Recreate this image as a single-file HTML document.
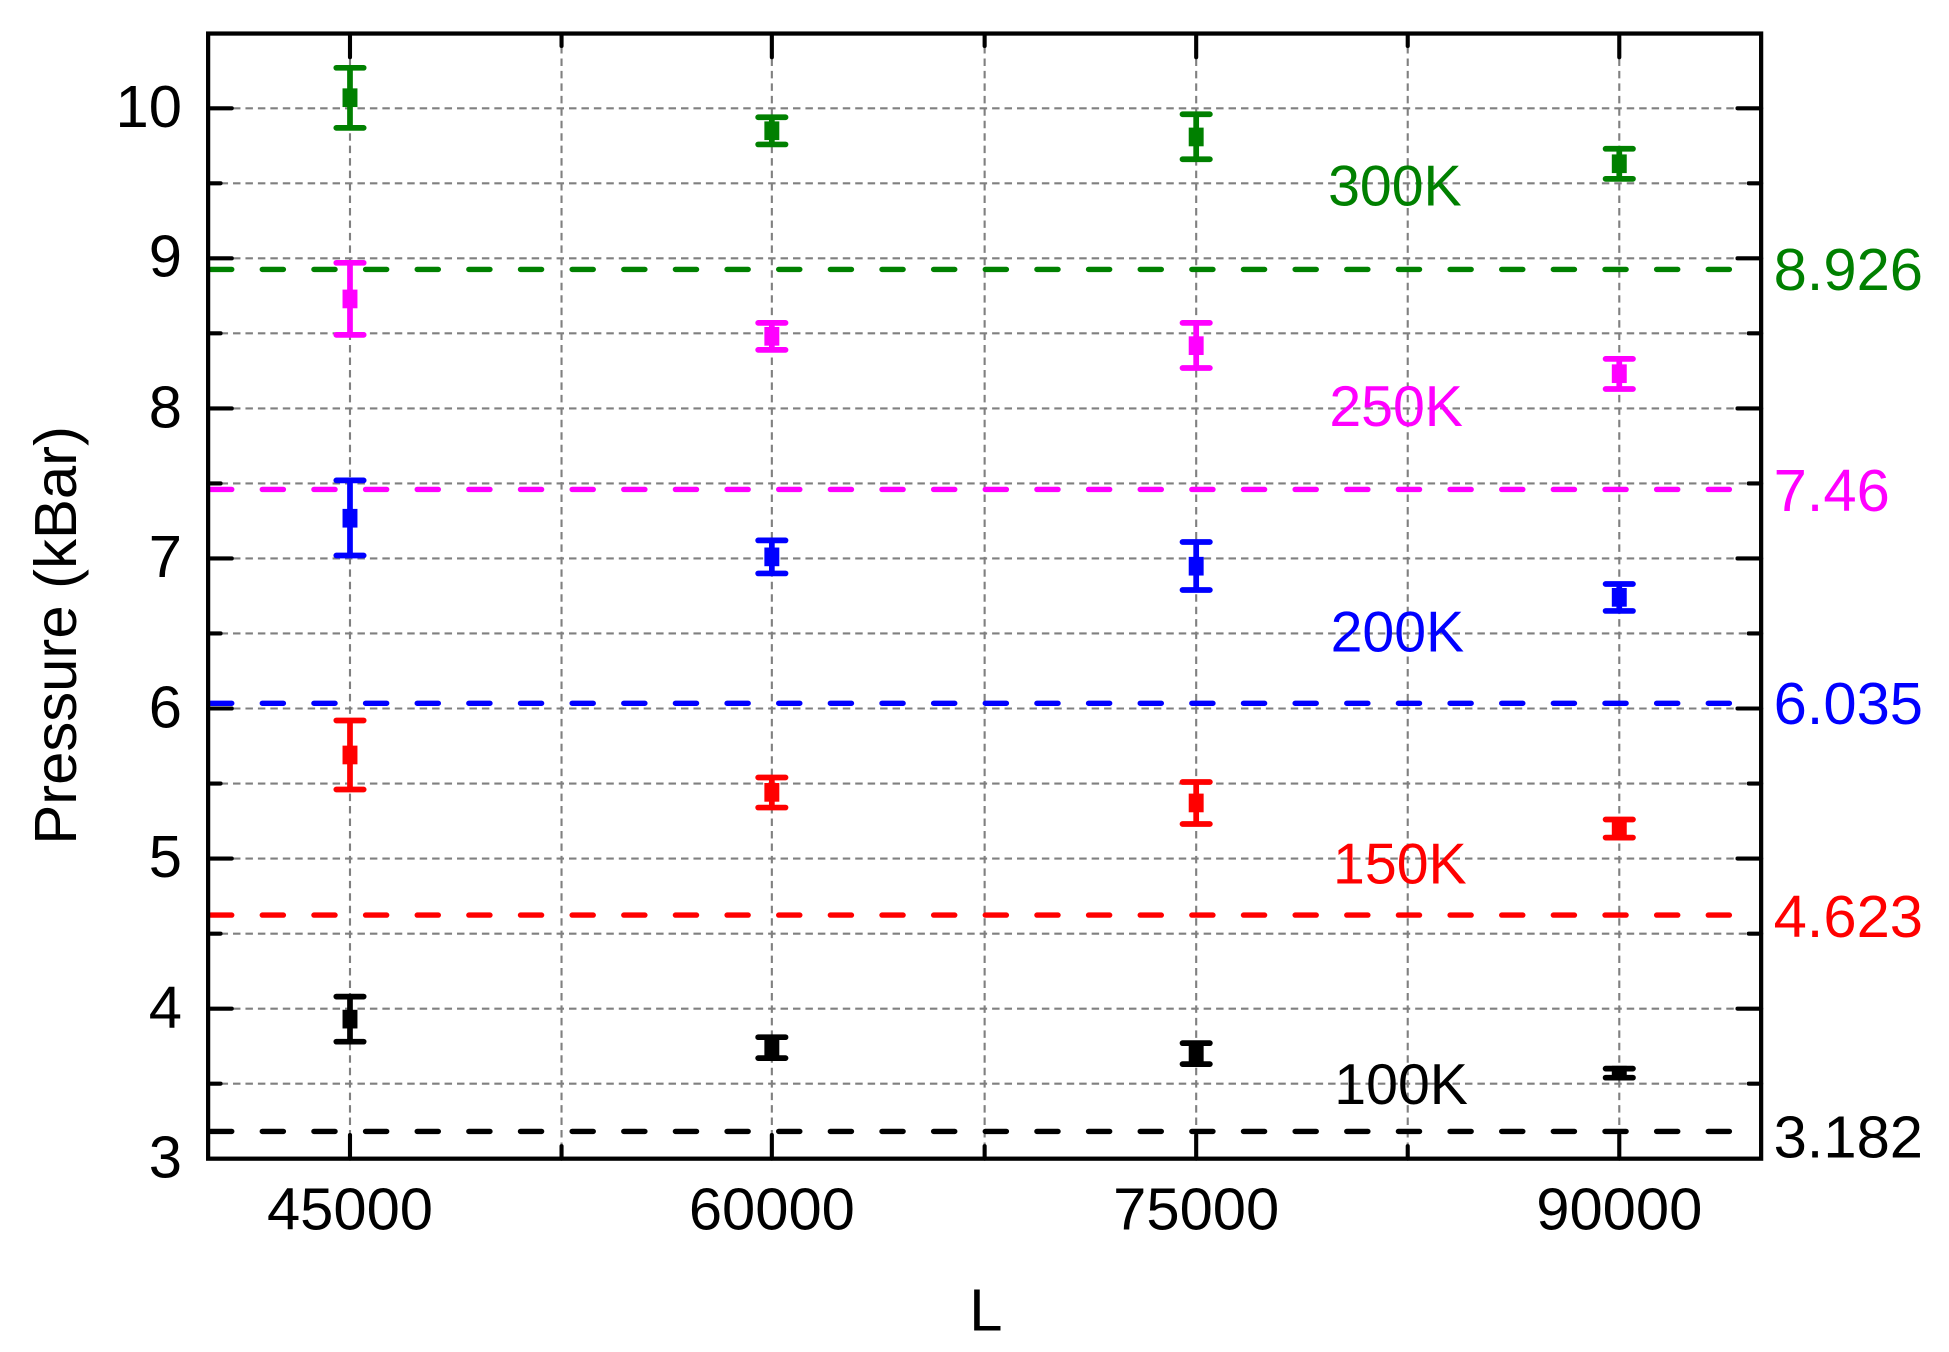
<!DOCTYPE html>
<html><head><meta charset="utf-8"><style>
html,body{margin:0;padding:0;background:#fff;}
svg{display:block;}
text{font-family:"Liberation Sans",Arial,sans-serif;}
</style></head><body>
<svg width="1949" height="1352" viewBox="0 0 1949 1352" xmlns="http://www.w3.org/2000/svg">
<rect width="1949" height="1352" fill="#fff"/>
<g transform="matrix(1.2444 0 0 1.246 -0.93 -0.1)">
<!-- grid -->
<g stroke="#808080" stroke-width="1.7" stroke-dasharray="6,4" fill="none">
<path d="M168 87H1416M168 147.2H1416M168 207.4H1416M168 267.6H1416M168 327.9H1416M168 388.1H1416M168 448.3H1416M168 508.5H1416M168 568.7H1416M168 628.9H1416M168 689.1H1416M168 749.4H1416M168 809.6H1416M168 869.8H1416"/>
<path d="M282 27V930M452 27V930M621 27V930M792 27V930M962 27V930M1132 27V930M1302 27V930"/>
</g>
<!-- reference dashed lines -->
<g stroke-width="4.3" stroke-dasharray="17,24.5" fill="none" stroke-linecap="round">
<path d="M170 216.3H1414" stroke="#008000"/>
<path d="M170 392.9H1414" stroke="#ff00ff"/>
<path d="M170 564.5H1414" stroke="#0000ff"/>
<path d="M170 734.5H1414" stroke="#ff0000"/>
<path d="M170 908.1H1414" stroke="#000"/>
</g>
<!-- ticks -->
<g stroke="#000" stroke-width="3.3" fill="none" stroke-linecap="round">
<path d="M168 87h19M168 207.4h19M168 327.9h19M168 448.3h19M168 568.7h19M168 689.1h19M168 809.6h19"/>
<path d="M168 147.2h10M168 267.6h10M168 388.1h10M168 508.5h10M168 628.9h10M168 749.4h10M168 869.8h10"/>
<path d="M1416 87h-19M1416 207.4h-19M1416 327.9h-19M1416 448.3h-19M1416 568.7h-19M1416 689.1h-19M1416 809.6h-19"/>
<path d="M1416 147.2h-10M1416 267.6h-10M1416 388.1h-10M1416 508.5h-10M1416 628.9h-10M1416 749.4h-10M1416 869.8h-10"/>
<path d="M282 930v-19M621 930v-19M962 930v-19M1302 930v-19M452 930v-10M792 930v-10M1132 930v-10"/>
<path d="M282 27v19M621 27v19M962 27v19M1302 27v19M452 27v10M792 27v10M1132 27v10"/>
</g>
<rect x="168" y="27" width="1248" height="903" fill="none" stroke="#000" stroke-width="3.4"/>
<!-- error bars -->
<g stroke-width="4.6" stroke-linecap="round">
<g stroke="#008000" fill="#008000">
<path d="M282 54.5V102.7M271 54.5h22M271 102.7h22"/><rect x="276" y="71" width="12" height="15" stroke="none"/>
<path d="M621 94.2V116M610 94.2h22M610 116h22"/><rect x="615" y="97.5" width="12" height="15" stroke="none"/>
<path d="M962 91.8V127.9M951 91.8h22M951 127.9h22"/><rect x="956" y="102.5" width="12" height="15" stroke="none"/>
<path d="M1302 119.5V143.6M1291 119.5h22M1291 143.6h22"/><rect x="1296" y="124" width="12" height="15" stroke="none"/>
</g>
<g stroke="#ff00ff" fill="#ff00ff">
<path d="M282 211V268.8M271 211h22M271 268.8h22"/><rect x="276" y="232.5" width="12" height="15" stroke="none"/>
<path d="M621 259.2V280.9M610 259.2h22M610 280.9h22"/><rect x="615" y="262.5" width="12" height="15" stroke="none"/>
<path d="M962 259.2V295.4M951 259.2h22M951 295.4h22"/><rect x="956" y="270" width="12" height="15" stroke="none"/>
<path d="M1302 288.1V312.3M1291 288.1h22M1291 312.3h22"/><rect x="1296" y="292.5" width="12" height="15" stroke="none"/>
</g>
<g stroke="#0000ff" fill="#0000ff">
<path d="M282 385.6V445.9M271 385.6h22M271 445.9h22"/><rect x="276" y="408.5" width="12" height="15" stroke="none"/>
<path d="M621 433.8V460.3M610 433.8h22M610 460.3h22"/><rect x="615" y="439.5" width="12" height="15" stroke="none"/>
<path d="M962 435.1V473.6M951 435.1h22M951 473.6h22"/><rect x="956" y="447" width="12" height="15" stroke="none"/>
<path d="M1302 468.8V490.4M1291 468.8h22M1291 490.4h22"/><rect x="1296" y="472" width="12" height="15" stroke="none"/>
</g>
<g stroke="#ff0000" fill="#ff0000">
<path d="M282 578.3V633.7M271 578.3h22M271 633.7h22"/><rect x="276" y="598.5" width="12" height="15" stroke="none"/>
<path d="M621 624.1V648.2M610 624.1h22M610 648.2h22"/><rect x="615" y="628.5" width="12" height="15" stroke="none"/>
<path d="M962 627.7V661.4M951 627.7h22M951 661.4h22"/><rect x="956" y="637" width="12" height="15" stroke="none"/>
<path d="M1302 657.8V672.3M1291 657.8h22M1291 672.3h22"/><rect x="1296" y="657.5" width="12" height="15" stroke="none"/>
</g>
<g stroke="#000" fill="#000">
<path d="M282 799.9V836.1M271 799.9h22M271 836.1h22"/><rect x="276" y="810.5" width="12" height="15" stroke="none"/>
<path d="M621 832.5V849.3M610 832.5h22M610 849.3h22"/><rect x="615" y="833.5" width="12" height="15" stroke="none"/>
<path d="M962 837.3V854.1M951 837.3h22M951 854.1h22"/><rect x="956" y="838" width="12" height="15" stroke="none"/>
<path d="M1302 857.7V865M1291 857.7h22M1291 865h22"/><rect x="1296" y="855.5" width="12" height="11" stroke="none"/>
</g>
</g>
<!-- tick labels -->
<g font-size="48" fill="#000" text-anchor="end">
<text x="147" y="102">10</text>
<text x="147" y="222">9</text>
<text x="147" y="343">8</text>
<text x="147" y="463">7</text>
<text x="147" y="584">6</text>
<text x="147" y="704">5</text>
<text x="147" y="825">4</text>
<text x="147" y="945">3</text>
</g>
<g font-size="48" fill="#000" text-anchor="middle">
<text x="282" y="987">45000</text>
<text x="621" y="987">60000</text>
<text x="962" y="987">75000</text>
<text x="1302" y="987">90000</text>
<text x="793" y="1068">L</text>
</g>
<text transform="translate(62,510) rotate(-90)" font-size="48" text-anchor="middle" fill="#000">Pressure (kBar)</text>
<!-- right labels -->
<g font-size="48">
<text x="1426" y="233" fill="#008000">8.926</text>
<text x="1426" y="410" fill="#ff00ff">7.46</text>
<text x="1426" y="581" fill="#0000ff">6.035</text>
<text x="1426" y="752" fill="#ff0000">4.623</text>
<text x="1426" y="929" fill="#000">3.182</text>
</g>
<g font-size="46">
<text x="1068" y="165" fill="#008000">300K</text>
<text x="1069" y="342" fill="#ff00ff">250K</text>
<text x="1070" y="523" fill="#0000ff">200K</text>
<text x="1072" y="709" fill="#ff0000">150K</text>
<text x="1073" y="886" fill="#000">100K</text>
</g>
</g>
</svg>
</body></html>
